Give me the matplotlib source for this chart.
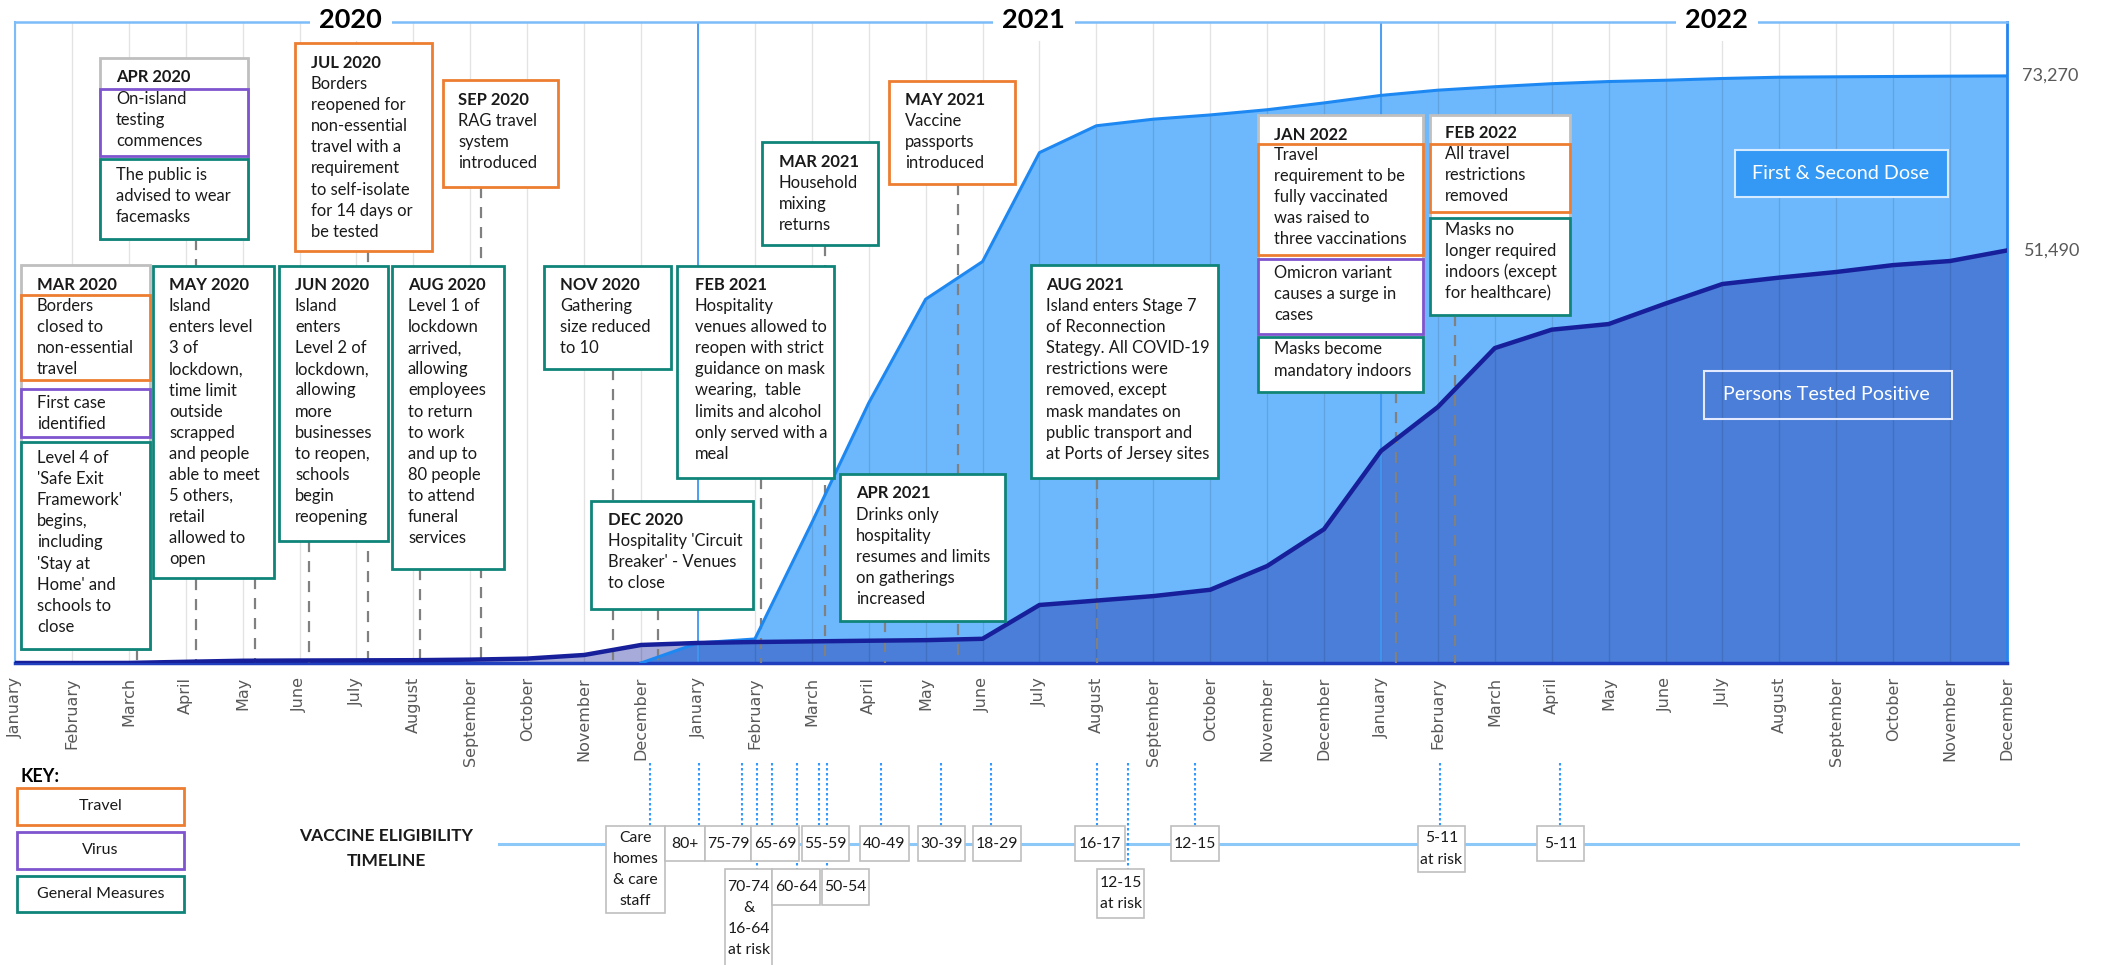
import matplotlib
matplotlib.use("Agg")
import matplotlib.pyplot as plt
import matplotlib.transforms as mtransforms
from matplotlib.patches import Rectangle
import numpy as np

# ---------------- data ----------------
month_names = ["January", "February", "March", "April", "May", "June", "July",
               "August", "September", "October", "November", "December"]
months = month_names * 3
years = ["2020", "2021", "2022"]

# cumulative persons tested positive (Jan 2020 .. Dec 2022)
positives = [0, 0, 10, 150, 280, 310, 330, 350, 420, 550, 1000, 2250,
             2500, 2620, 2700, 2780, 2850, 3020, 7240, 7790, 8350, 9140, 12100, 16700,
             26460, 31950, 39300, 41600, 42300, 44860, 47300, 48100, 48800, 49660, 50170, 51490]
# cumulative first & second dose (no vaccination before Dec 2020)
vaccinated = [None, None, None, None, None, None, None, None, None, None, None, 0,
              2500, 3000, 17500, 32450, 45400, 50100, 63700, 67050, 67870, 68400, 69050, 69900,
              70840, 71490, 71920, 72300, 72570, 72730, 72950, 73110, 73160, 73200, 73240, 73270]

# vaccine eligibility events (fractional month index) and labels
elig_months = [11.16, 12.02, 12.77, 13.04, 13.30, 13.74, 14.13, 14.27, 15.22, 16.27,
               17.15, 19.01, 19.56, 20.73, 25.04, 27.15]
elig_labels = ["Care\nhomes\n& care\nstaff", "80+", "75-79", "70-74\n&\n16-64\nat risk", "65-69",
               "60-64", "55-59", "50-54", "40-49", "30-39", "18-29", "16-17", "12-15\nat risk",
               "12-15", "5-11\nat risk", "5-11"]

# ---------------- layout / style ----------------
W, H = 2105, 965
FONT = ["Lato", "DejaVu Sans"]
ORANGE = "#ED7D31"
PURPLE = "#7E55CF"
TEAL = "#0F8479"
GREY = "#BFBFBF"
TXT = "#1a1a1a"
FS = 11.9
LH = 21.1

fig = plt.figure(figsize=(W / 100, H / 100), dpi=100)
ax = fig.add_axes([15 / W, 1 - 663 / H, (2007 - 15) / W, (663 - 22) / H], zorder=1)
lay = fig.add_axes([0, 0, 1, 1], zorder=5)
lay.set_xlim(0, W)
lay.set_ylim(H, 0)
lay.axis("off")
lay.patch.set_alpha(0)

x = np.arange(len(months))
pos = np.array(positives, dtype=float)
vac = np.array([np.nan if v is None else v for v in vaccinated], dtype=float)

# areas
ax.fill_between(x, 0, vac, where=~np.isnan(vac), color="#6DB8FD", lw=0, zorder=1)
ax.fill_between(x, 0, pos, color=(14 / 255, 27 / 255, 153 / 255), alpha=0.37, lw=0, zorder=1.5)
# grid
ax.vlines(x, 0, 80000, color="black", alpha=0.11, lw=1, zorder=2)
ax.axvline(12, color="#3F98F2", lw=1.3, zorder=2.2)
ax.axvline(24, color="#3F98F2", lw=1.3, zorder=2.2)
# lines
ax.plot(x, vac, color="#1E88F2", lw=2.2, zorder=4, solid_joinstyle="round")
ax.plot(x, pos, color="#17209A", lw=3.2, zorder=4.2, solid_joinstyle="round")

ax.set_xlim(0, len(months) - 1)
ax.set_ylim(0, 80000)
ax.set_yticks([])
ax.set_xticks(x)
ax.set_xticklabels(months, rotation=90, fontsize=11.5, color="#595959", family="DejaVu Sans")
ax.tick_params(axis="x", length=0, pad=10)
ax.spines["left"].set_color("#7CBCF8")
ax.spines["left"].set_linewidth(1.5)
ax.spines["top"].set_color("#7CBCF8")
ax.spines["top"].set_linewidth(1.8)
ax.spines["right"].set_color("#2585EF")
ax.spines["right"].set_linewidth(2)
ax.spines["bottom"].set_color("#1F3FBF")
ax.spines["bottom"].set_linewidth(2.5)

bx = mtransforms.blended_transform_factory(ax.transData, lay.transData)   # x: month, y: layout px
by = mtransforms.blended_transform_factory(lay.transData, ax.transData)   # x: layout px, y: data

# year labels
for i, yr in enumerate(years):
    lay.text(5.9 + 12 * i, 20, yr, transform=bx, ha="center", va="center", fontsize=19.5,
             fontweight="bold", family=FONT, color="black", zorder=6,
             bbox=dict(boxstyle="square,pad=0.35", fc="white", ec="none"))

# end value labels
lay.text(2022, vac[-1], f"{int(vac[-1]):,}", transform=by, ha="left", va="center",
         fontsize=13, color="#595959", family=FONT)
lay.text(2024, pos[-1], f"{int(pos[-1]):,}", transform=by, ha="left", va="center",
         fontsize=13, color="#595959", family=FONT)

# series labels inside chart
lay.add_patch(Rectangle((1735, 150), 213, 47, fc="#3399F5", ec="#D6EBFF", lw=1.5, zorder=3))
lay.text(1841, 173.5, "First & Second Dose", ha="center", va="center", fontsize=14.2,
         color="white", family=FONT, zorder=4)
lay.add_patch(Rectangle((1704, 371), 248, 48, fc="none", ec="#E3EAFF", lw=1.5, zorder=3))
lay.text(1826, 395, "Persons Tested Positive", ha="center", va="center", fontsize=14.2,
         color="white", family=FONT, zorder=4)


def rect(x0, y0, x1, y1, ec, lw=2.0, z=3):
    lay.add_patch(Rectangle((x0, y0), x1 - x0, y1 - y0, fc="white", ec=ec, lw=lw, zorder=z))


def text_lines(tx, ty, txt, bold=False, fs=FS, ha="left", lh=LH):
    for i, line in enumerate(txt.split("\n")):
        lay.text(tx, ty + i * lh, line, fontsize=fs, fontweight="bold" if bold else "normal",
                 ha=ha, va="center", color=TXT, family=FONT, zorder=4)


def connector(month, ytop):
    ax.plot([month, month], [ytop, 663], transform=bx, color="#808080", lw=1.6,
            dashes=(5, 4), zorder=3.5, clip_on=False)


# single-colour annotation boxes: header, body, colour, box (x0,y0,x1,y1), text x, header y, event month
notes = [
    ("MAY 2020", "Island\nenters level\n3 of\nlockdown,\ntime limit\noutside\nscrapped\nand people\nable to meet\n5 others,\nretail\nallowed to\nopen",
     TEAL, (153, 266, 274, 578), 169, 285, 4.22),
    ("JUN 2020", "Island\nenters\nLevel 2 of\nlockdown,\nallowing\nmore\nbusinesses\nto reopen,\nschools\nbegin\nreopening",
     TEAL, (279, 266, 388, 541), 295, 285, 5.17),
    ("JUL 2020", "Borders\nreopened for\nnon-essential\ntravel with a\nrequirement\nto self-isolate\nfor 14 days or\nbe tested",
     ORANGE, (295, 43, 432, 251), 311, 63, 6.20),
    ("AUG 2020", "Level 1 of\nlockdown\narrived,\nallowing\nemployees\nto return\nto work\nand up to\n80 people\nto attend\nfuneral\nservices",
     TEAL, (392, 266, 504, 569), 408, 285, 7.12),
    ("SEP 2020", "RAG travel\nsystem\nintroduced", ORANGE, (443, 80, 558, 187), 458, 100, 8.19),
    ("NOV 2020", "Gathering\nsize reduced\nto 10", TEAL, (544, 266, 671, 369), 560, 285, 10.51),
    ("DEC 2020", "Hospitality 'Circuit\nBreaker' - Venues\nto close", TEAL, (591, 501, 753, 609), 608, 520, 11.30),
    ("FEB 2021", "Hospitality\nvenues allowed to\nreopen with strict\nguidance on mask\nwearing,  table\nlimits and alcohol\nonly served with a\nmeal",
     TEAL, (677, 266, 834, 478), 695, 285, 13.11),
    ("MAR 2021", "Household\nmixing\nreturns", TEAL, (762, 142, 878, 245), 779, 162, 14.23),
    ("APR 2021", "Drinks only\nhospitality\nresumes and limits\non gatherings\nincreased",
     TEAL, (840, 474, 1005, 621), 856, 493.5, 15.29),
    ("MAY 2021", "Vaccine\npassports\nintroduced", ORANGE, (889, 81, 1015, 184), 905, 100, 16.57),
    ("AUG 2021", "Island enters Stage 7\nof Reconnection\nStategy. All COVID-19\nrestrictions were\nremoved, except\nmask mandates on\npublic transport and\nat Ports of Jersey sites",
     TEAL, (1031, 265, 1218, 478), 1046, 285, 19.01),
]

for header, body, col, (x0, y0, x1, y1), tx, hy, em in notes:
    rect(x0, y0, x1, y1, col)
    text_lines(tx, hy, header, bold=True)
    text_lines(tx, hy + LH, body)
    connector(em, y1)

# grouped annotation boxes: header, outer box, text x, header y, parts, event month
groups = [
    ("MAR 2020", (21, 265, 150, 649), 37, 285,
     [("Borders\nclosed to\nnon-essential\ntravel", ORANGE, 295, 380, 305.7),
      ("First case\nidentified", PURPLE, 389, 437, 403),
      ("Level 4 of\n'Safe Exit\nFramework'\nbegins,\nincluding\n'Stay at\nHome' and\nschools to\nclose", TEAL, 442, 649, 458)],
     2.14),
    ("APR 2020", (100, 58, 248, 239), 116, 77,
     [("On-island\ntesting\ncommences", PURPLE, 89, 156, 99),
      ("The public is\nadvised to wear\nfacemasks", TEAL, 159, 239, 175)],
     3.18),
    ("JAN 2022", (1258, 115, 1423, 392), 1274, 134.5,
     [("Travel\nrequirement to be\nfully vaccinated\nwas raised to\nthree vaccinations", ORANGE, 144, 255, 155),
      ("Omicron variant\ncauses a surge in\ncases", PURPLE, 259, 334, 273),
      ("Masks become\nmandatory indoors", TEAL, 337, 392, 349.5)],
     24.27),
    ("FEB 2022", (1430, 115, 1570, 315), 1445, 133,
     [("All travel\nrestrictions\nremoved", ORANGE, 144, 212, 154),
      ("Masks no\nlonger required\nindoors (except\nfor healthcare)", TEAL, 218, 315, 230)],
     25.30),
]

for header, (x0, y0, x1, y1), tx, hy, parts, em in groups:
    rect(x0, y0, x1, y1, GREY, lw=2.0)
    text_lines(tx, hy, header, bold=True)
    for body, col, py0, py1, ly in parts:
        rect(x0, py0, x1, py1, col, z=3.2)
        text_lines(tx, ly, body)
    connector(em, y1)

# ---------------- key ----------------
lay.text(20, 777, "KEY:", fontsize=13, fontweight="bold", ha="left", va="center",
         family=FONT, color="black")
for label, col, y0, y1 in [("Travel", ORANGE, 788, 825), ("Virus", PURPLE, 832, 869),
                           ("General Measures", TEAL, 876, 912)]:
    rect(17, y0, 184, y1, col)
    lay.text(100.5, (y0 + y1) / 2, label, fontsize=11.5, ha="center", va="center",
             family=FONT, color=TXT, zorder=4)

# ---------------- vaccine eligibility timeline ----------------
text_lines(386, 836, "VACCINE ELIGIBILITY\nTIMELINE", bold=True, fs=12.5, ha="center", lh=25)
lay.plot([499, 2018], [844, 844], color="#8CC8F8", lw=2.2, zorder=2)

# box rectangles (layout) in the same order as elig_labels
elig_boxes = [(606, 665, 826, 913), (665, 705, 826, 861), (705, 751, 826, 861),
              (725, 772, 869, 968), (751, 799, 826, 861), (772, 820, 869, 905),
              (802, 849, 826, 861), (822, 869, 869, 905), (860, 909, 826, 861),
              (918, 965, 826, 861), (973, 1021, 826, 861), (1075, 1125, 826, 861),
              (1097, 1144, 869, 918), (1171, 1219, 826, 861), (1418, 1465, 826, 872),
              (1537, 1584, 826, 861)]

for m, lab, (x0, x1, y0, y1) in zip(elig_months, elig_labels, elig_boxes):
    lay.plot([m, m], [763, y0], transform=bx, color="#3399FF", lw=1.5, ls=(0, (1.2, 1.2)), zorder=2.5)
for lab, (x0, x1, y0, y1) in zip(elig_labels, elig_boxes):
    rect(x0, y0, x1, y1, GREY, lw=1.2)
    n = lab.count("\n") + 1
    cy = (y0 + y1) / 2 - (n - 1) * 21 / 2
    text_lines((x0 + x1) / 2, cy, lab, fs=11.3, ha="center", lh=21)

fig.savefig("out.png", dpi=100)
